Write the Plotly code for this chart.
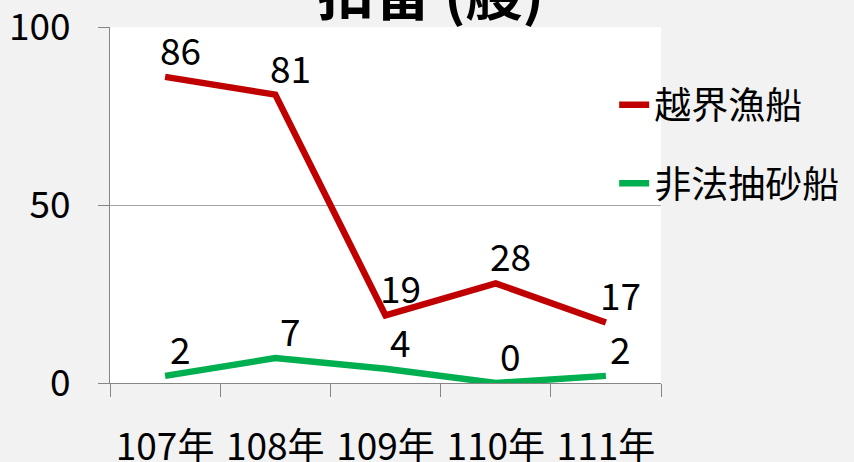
import plotly.graph_objects as go

categories = ["107年", "108年", "109年", "110年", "111年"]
fishing = [86, 81, 19, 28, 17]
sand = [2, 7, 4, 0, 2]
series_names = ["越界漁船", "非法抽砂船"]
title_text = "扣留 (艘)"

FONT = "Noto Sans CJK TC"
FS = 37
fig = go.Figure()
fig.add_trace(go.Scatter(
    x=categories, y=fishing, name=series_names[0], mode="lines",
    line=dict(color="#C00000", width=6.5), cliponaxis=False, legend="legend"))
fig.add_trace(go.Scatter(
    x=categories, y=sand, name=series_names[1], mode="lines",
    line=dict(color="#00B050", width=6.5), cliponaxis=False, legend="legend2"))

annotations = []
for series in (fishing, sand):
    for c, v in zip(categories, series):
        annotations.append(dict(x=c, y=v, xref="x", yref="y", text=str(v),
                                showarrow=False, xanchor="center", yanchor="middle",
                                xshift=15, yshift=28,
                                font=dict(size=FS, family=FONT, color="#000000")))
annotations.append(dict(text="<b>" + title_text + "</b>", xref="paper", yref="paper",
                        x=0.581, y=1.104, xanchor="center", yanchor="middle",
                        showarrow=False, font=dict(size=57, family=FONT, color="#000000")))

fig.update_layout(
    width=854, height=462,
    margin=dict(l=110, r=193, t=27, b=79, autoexpand=False),
    paper_bgcolor="#F2F2F2", plot_bgcolor="#FFFFFF",
    font=dict(family=FONT, size=FS, color="#000000"),
    showlegend=True,
    legend=dict(x=0.915, y=0.78, xanchor="left", yanchor="middle",
                bgcolor="rgba(0,0,0,0)", font=dict(size=FS)),
    legend2=dict(x=0.915, y=0.56, xanchor="left", yanchor="middle",
                 bgcolor="rgba(0,0,0,0)", font=dict(size=FS)),
    xaxis=dict(type="category", range=[-0.5, 4.5], autorange=False,
               tickson="boundaries", ticks="outside", ticklen=13,
               tickcolor="#868686", showline=True, linecolor="#868686", linewidth=1,
               showgrid=False, tickfont=dict(size=FS), ticklabelstandoff=32,
               ticklabeloverflow="allow", automargin=False),
    yaxis=dict(range=[0, 100], autorange=False, tickvals=[0, 50, 100], ticks="outside", ticklen=11,
               tickcolor="#868686", showline=True, linecolor="#868686", linewidth=1,
               showgrid=True, gridcolor="#A6A6A6", gridwidth=1, zeroline=False,
               tickfont=dict(size=FS), ticklabelstandoff=20,
               ticklabeloverflow="allow", automargin=False),
    annotations=annotations,
)
fig.write_html("out.html", config={"displayModeBar": False},
               post_script="document.body.style.margin='0px';document.body.style.overflow='hidden';")
